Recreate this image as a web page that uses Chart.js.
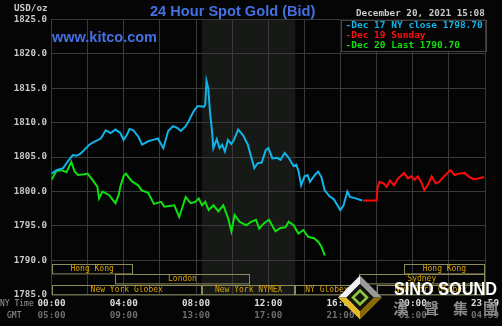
<!DOCTYPE html>
<html>
<head>
<meta charset="utf-8">
<script src="https://cdn.jsdelivr.net/npm/chart.js@4.4.1/dist/chart.umd.min.js"></script>
<style>
html,body{margin:0;padding:0;background:#050505;}
canvas{display:block;}
</style>
</head>
<body>
<canvas id="goldChart" width="502" height="326"></canvas>
<script>
// ---- data (hours after NY midnight, USD/oz) ----

const cyanHours = [0.0,0.28,0.64,0.83,1.00,1.18,1.37,1.55,1.73,2.09,2.36,2.73,3.00,3.27,3.54,3.81,3.99,4.17,4.32,4.53,4.80,5.02,5.35,5.62,5.89,6.19,6.46,6.73,6.98,7.16,7.43,7.61,7.74,7.90,8.09,8.28,8.43,8.51,8.58,8.68,8.78,8.88,8.96,9.15,9.31,9.45,9.60,9.77,9.96,10.10,10.33,10.60,10.87,11.05,11.23,11.41,11.64,11.86,12.01,12.23,12.50,12.68,12.91,13.13,13.40,13.55,13.68,13.82,14.01,14.18,14.31,14.58,14.76,14.94,15.12,15.39,15.62,15.99,16.17,16.38,16.53,16.84,17.20];
const cyanPrice = [1802.6,1803.1,1803.4,1804.1,1804.7,1805.3,1805.2,1805.4,1805.8,1806.8,1807.2,1807.7,1808.9,1808.5,1809.0,1808.5,1807.5,1808.2,1809.1,1808.9,1808.0,1806.8,1807.3,1807.5,1807.7,1806.3,1808.8,1809.5,1809.2,1808.8,1809.5,1810.3,1811.0,1811.8,1812.4,1812.4,1812.3,1812.6,1816.1,1815.0,1811.4,1809.0,1806.3,1807.6,1806.3,1806.8,1805.8,1807.5,1806.9,1807.5,1809.0,1808.2,1806.8,1805.1,1803.4,1804.1,1804.2,1806.0,1806.3,1804.8,1804.9,1804.6,1805.6,1804.9,1803.7,1803.9,1802.9,1800.9,1802.2,1802.4,1801.4,1802.4,1802.9,1802.1,1800.2,1799.3,1798.9,1797.3,1798.0,1800.0,1799.2,1799.0,1798.7];

const redHours = [17.25,18.00,18.05,18.16,18.38,18.56,18.74,18.96,19.19,19.52,19.73,19.91,20.10,20.28,20.46,20.64,20.82,21.05,21.27,21.46,21.73,22.08,22.32,22.57,22.87,23.08,23.36,23.63,23.95];
const redPrice = [1798.7,1798.7,1800.6,1801.4,1801.2,1800.7,1801.6,1800.9,1801.9,1802.7,1801.9,1802.2,1801.7,1802.2,1801.4,1800.2,1800.9,1802.2,1801.2,1801.4,1802.2,1803.1,1802.4,1802.6,1802.7,1802.2,1801.8,1801.9,1802.1];

const greenHours = [0.00,0.28,0.55,0.83,1.10,1.28,1.46,1.82,2.00,2.27,2.54,2.63,2.82,3.18,3.54,3.72,3.81,3.99,4.12,4.44,4.80,4.98,5.35,5.67,6.07,6.25,6.80,7.07,7.43,7.70,7.97,8.15,8.33,8.51,8.70,8.97,9.24,9.51,9.78,9.96,10.14,10.41,10.78,11.05,11.32,11.50,11.77,12.04,12.40,12.67,12.95,13.13,13.40,13.67,13.94,14.21,14.54,14.76,14.94,15.13];
const greenPrice = [1801.7,1803.0,1803.1,1802.8,1804.3,1802.9,1802.4,1802.5,1802.6,1801.7,1800.7,1799.0,1800.0,1799.5,1798.3,1799.5,1800.7,1802.2,1802.6,1801.5,1800.9,1800.2,1799.8,1798.2,1798.5,1797.8,1798.0,1796.3,1799.2,1798.3,1798.5,1799.0,1798.0,1798.5,1797.3,1798.0,1797.1,1798.0,1796.1,1794.2,1796.6,1795.6,1795.1,1795.6,1795.9,1794.6,1795.4,1795.9,1794.2,1794.7,1794.8,1795.6,1795.1,1793.9,1794.4,1793.4,1793.2,1792.7,1792.0,1790.7];

const legendLabels = ['Dec 17 NY close 1798.70','Dec 19 Sunday','Dec 20 Last 1790.70'];

const nyLabels = ['00:00','04:00','08:00','12:00','16:00','20:00','23:59'];
const gmtLabels = ['05:00','09:00','13:00','17:00','21:00','01:00','04:59'];

// trading sessions (row 0 = top)
const sessionNames = ['Hong Kong','London','New York Globex','New York NYMEX','NY Globex','New York Globex','Sydney','Hong Kong'];
const sessionStart = [0,3.5,0,8.33,13.5,18,17,19.5];
const sessionEnd   = [4.5,11,8.33,13.5,17,24,24,24];
const sessionRow   = [0,1,2,2,2,2,1,0];

const nymexOpen = 8.33, nymexClose = 13.5;

// =============================

const MONO = '"DejaVu Sans Mono", monospace';
const SANS = '"Liberation Sans", Arial, sans-serif';

function pts(hs, ps){
return hs.map((h,i)=>({x:h, y:ps[i]}));
}

function drawLogo(ctx){
const cx = 360, cy = 297.5, r = 22, ri = 13.5;
const T=[cx,cy-r], R=[cx+r,cy], B=[cx,cy+r], L=[cx-r,cy];
const t=[cx,cy-ri], rr=[cx+ri,cy], b=[cx,cy+ri], l=[cx-ri,cy];
const quad=(p,col)=>{
ctx.beginPath();
ctx.moveTo(p[0][0],p[0][1]);
for(let i=1;i<p.length;i++) ctx.lineTo(p[i][0],p[i][1]);
ctx.closePath();
ctx.fillStyle=col;
ctx.fill();
};
quad([L,T,t,l],'#f2f2f2');
quad([T,R,rr,t],'#9a9a9a');
quad([R,B,b,rr],'#8a6a08');
quad([B,L,l,b],'#e3bb2a');
quad([t,rr,b,l],'#15140c');
ctx.beginPath();
ctx.moveTo(cx,cy-7);ctx.lineTo(cx+7,cy);ctx.lineTo(cx,cy+7);ctx.lineTo(cx-7,cy);ctx.closePath();
ctx.strokeStyle='#8dc63f';
ctx.lineWidth=2.6;
ctx.stroke();

ctx.fillStyle='#ffffff';
ctx.font='bold 18px '+SANS;
ctx.textAlign='left';
ctx.textBaseline='alphabetic';
ctx.fillText('SINO SOUND',394,295,103);

ctx.fillStyle='#8c8c8c';
ctx.font='bold 15px "Noto Sans CJK TC", sans-serif';
ctx.textBaseline='middle';
const chars=['漢','聲','集','團'];
const xs=[393,424,453,483];
chars.forEach((c,i)=>ctx.fillText(c,xs[i],308));
}

const kitcoPlugin = {
id:'kitco',
beforeDraw(chart){
const ctx = chart.ctx, a = chart.chartArea, x = chart.scales.x;
ctx.save();
ctx.fillStyle = '#050505';
ctx.fillRect(0,0,chart.width,chart.height);
const x0 = x.getPixelForValue(nymexOpen), x1 = x.getPixelForValue(nymexClose);
ctx.fillStyle = '#161916';
ctx.fillRect(x0,a.top,x1-x0,a.bottom-a.top);
ctx.restore();
},
afterDraw(chart){
const ctx = chart.ctx, a = chart.chartArea, x = chart.scales.x;
ctx.save();

// sessions
const rowH = 10.4;
ctx.font = '8px '+MONO;
ctx.textAlign = 'center';
ctx.textBaseline = 'middle';
sessionNames.forEach((name,i)=>{
const left = x.getPixelForValue(sessionStart[i]);
const right = x.getPixelForValue(sessionEnd[i]);
const top = a.bottom - 31 + sessionRow[i]*rowH;
ctx.strokeStyle = '#8a8a5c';
ctx.lineWidth = 1;
ctx.strokeRect(Math.round(left)+0.5, Math.round(top)+0.5, Math.round(right-left)-1, rowH-1);
ctx.fillStyle = '#d9a300';
ctx.fillText(name,(left+right)/2,top+rowH/2);
});

// legend box
const lx = x.getPixelForValue(16);
ctx.fillStyle = '#050505';
ctx.fillRect(lx, a.top, a.right-lx, 31.5);
ctx.strokeStyle = '#444444';
ctx.strokeRect(Math.round(lx)+0.5, Math.round(a.top)+0.5, Math.round(a.right-lx), 31);
const cols = ['#10b4e8','#ff1010','#10dd10'];
ctx.font = 'bold 9.5px '+MONO;
ctx.textAlign = 'left';
legendLabels.forEach((s,i)=>{
ctx.fillStyle = cols[i];
ctx.fillText('-'+s, lx+5, a.top+6+i*10);
});

// header texts
ctx.fillStyle = '#c8c8c8';
ctx.font = 'bold 9.3px '+MONO;
ctx.fillText('December 20, 2021 15:08',356,14);
ctx.fillText('USD/oz',14,8.5);

ctx.fillStyle = '#4470e2';
ctx.font = 'bold 14.6px '+SANS;
ctx.textBaseline = 'alphabetic';
ctx.fillText('24 Hour Spot Gold (Bid)',150,15.5);
ctx.font = 'bold 14.5px '+SANS;
ctx.fillText('www.kitco.com',52,41.7);

ctx.fillStyle = '#9a9a9a';
ctx.font = '8px '+MONO;
ctx.textBaseline = 'middle';
ctx.fillText('NY Time',0,304);
ctx.fillText('GMT',7,316);

drawLogo(ctx);
ctx.restore();
}
};

const ctx = document.getElementById('goldChart').getContext('2d');

new Chart(ctx,{
type:'line',
data:{
datasets:[
{label:legendLabels[0], data:pts(cyanHours,cyanPrice), borderColor:'#10b4e8', borderWidth:2, pointRadius:0, tension:0},
{label:legendLabels[1], data:pts(redHours,redPrice), borderColor:'#ff0a0a', borderWidth:2, pointRadius:0, tension:0},
{label:legendLabels[2], data:pts(greenHours,greenPrice), borderColor:'#10e010', borderWidth:2, pointRadius:0, tension:0}
]
},
options:{
responsive:false,
animation:false,
layout:{padding:{top:19.5,right:8.5,bottom:6.3,left:0}},
plugins:{legend:{display:false},tooltip:{enabled:false},title:{display:false}},
scales:{
x:{
type:'linear', min:0, max:24, weight:0,
afterFit:(s)=>{s.height=12;},
grid:{color:'#3a3a3a', drawTicks:false},
border:{color:'#3a3a3a'},
ticks:{
stepSize:2, autoSkip:false, maxRotation:0, padding:3,
color:'#dcdcdc', font:{family:MONO, size:9.3, weight:'bold'},
callback:(v)=> v%4===0 ? nyLabels[v/4] : ''
}
},
x2:{
type:'linear', position:'bottom', min:0, max:24, weight:1,
afterFit:(s)=>{s.height=13;},
grid:{display:false, drawTicks:false},
border:{display:false},
ticks:{
stepSize:4, autoSkip:false, maxRotation:0, padding:3,
color:'#6e6e6e', font:{family:MONO, size:9.3, weight:'bold'},
callback:(v)=> gmtLabels[v/4]
}
},
y:{
min:1785, max:1825,
afterFit:(s)=>{s.width=51.5;},
grid:{color:'#3a3a3a', drawTicks:false},
border:{color:'#3a3a3a'},
ticks:{
stepSize:5, padding:4.5,
color:'#c8c8c8', font:{family:MONO, size:9.2, weight:'bold'},
callback:(v)=> v.toFixed(1)
}
}
}
},
plugins:[kitcoPlugin]
});
</script>
</body>
</html>
